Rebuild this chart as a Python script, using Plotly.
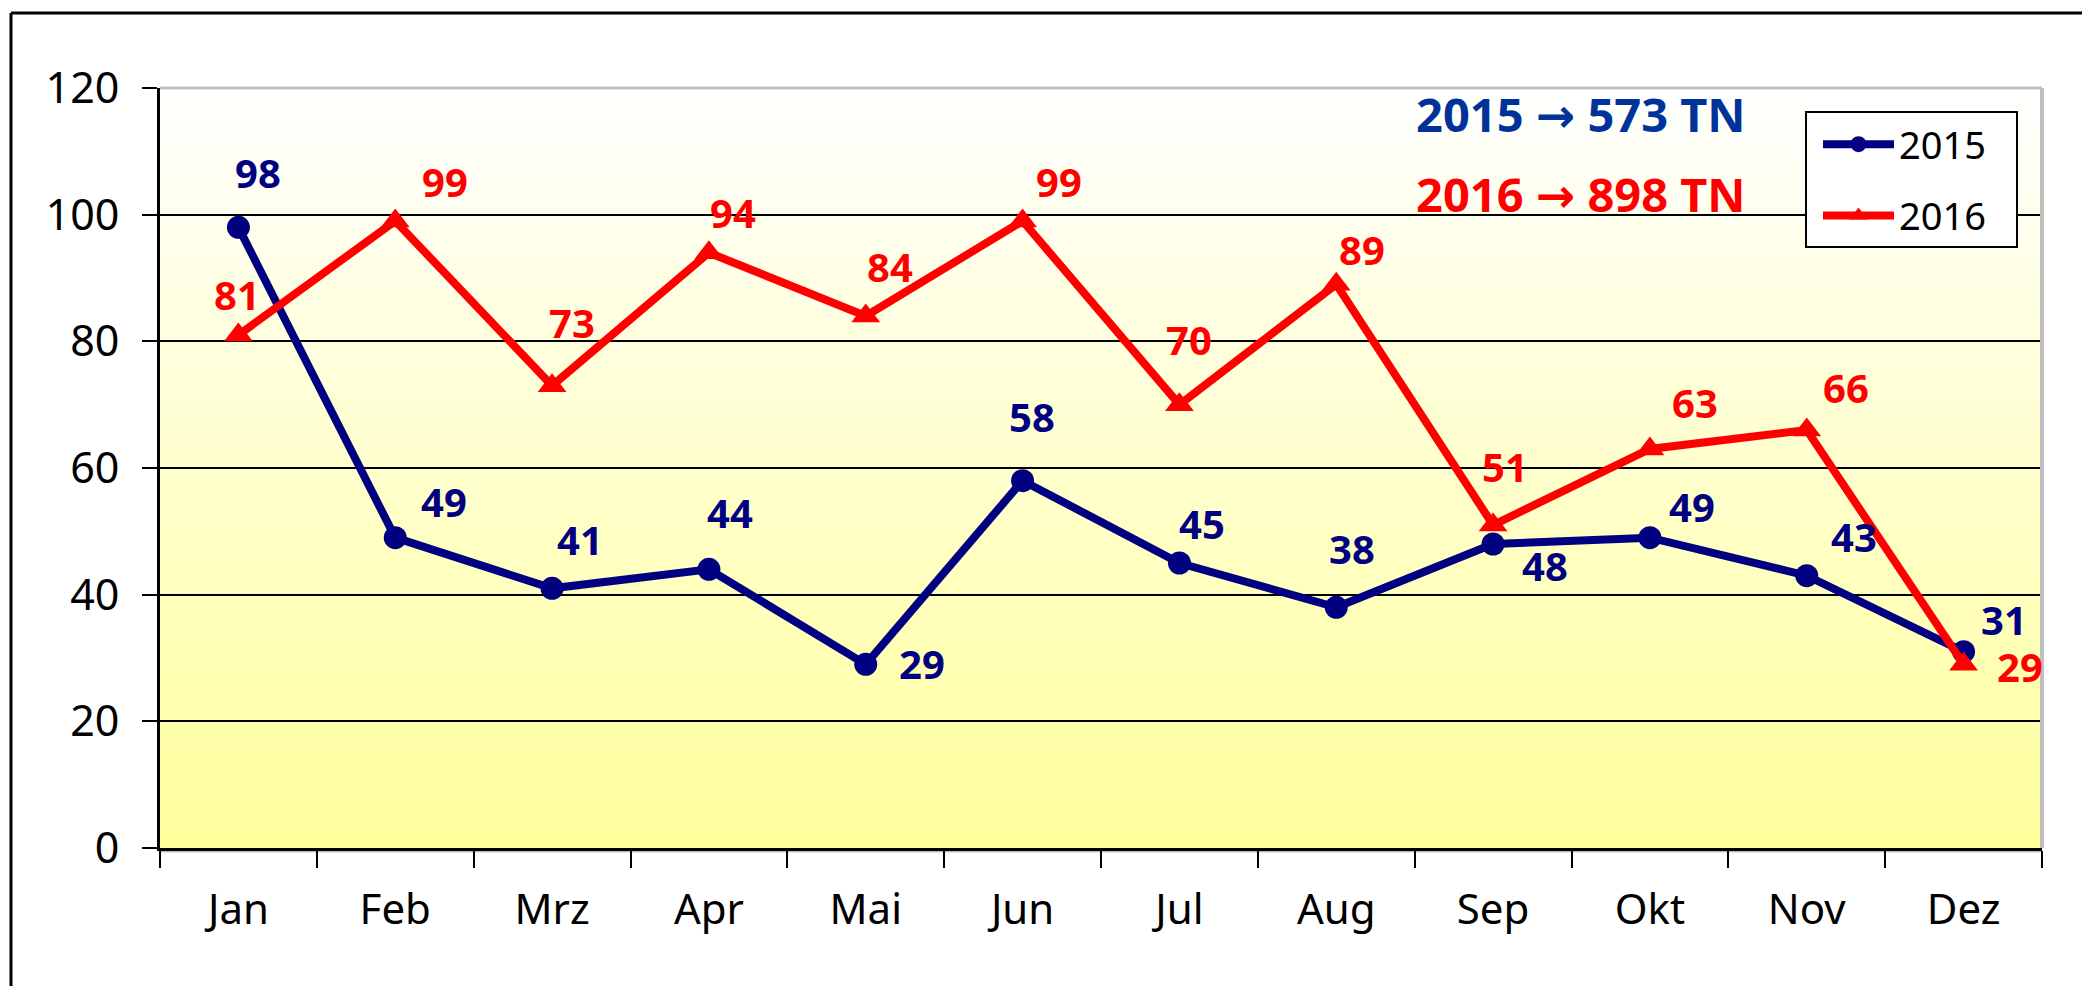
import base64
import plotly.graph_objects as go

# ---------------- data ----------------
months = ["Jan", "Feb", "Mrz", "Apr", "Mai", "Jun", "Jul", "Aug", "Sep", "Okt", "Nov", "Dez"]
values_2015 = [98, 49, 41, 44, 29, 58, 45, 38, 48, 49, 43, 31]
values_2016 = [81, 99, 73, 94, 84, 99, 70, 89, 51, 63, 66, 29]
series_names = ["2015", "2016"]
total_2015 = 573
total_2016 = 898
y_ticks = [0, 20, 40, 60, 80, 100, 120]

# label offsets in pixels (dx, dy; screen y down) - styling only
off_2015 = [(20, -53), (49, -34), (28, -47), (21, -55), (56, 1), (9, -62),
            (23, -38), (16, -57), (52, 23), (42, -29), (47, -37), (40, -30)]
off_2016 = [(-1, -39), (50, -38), (20, -61), (24, -38), (24, -48), (36, -38),
            (10, -63), (26, -33), (12, -57), (45, -45), (39, -41), (56, 4)]

NAVY = "#000080"
RED = "#FF0000"
BLUE_TXT = "#003399"
FONT = "Noto Sans"

W, H = 2082, 986
L, R, T, B = 160, 40, 88, 138

fig = go.Figure()

fig.add_trace(go.Scatter(
    x=months, y=values_2015, name=series_names[0], mode="lines+markers",
    line=dict(color=NAVY, width=8),
    marker=dict(symbol="circle", size=23, color=NAVY),
    legendgroup="a", cliponaxis=False,
))
fig.add_trace(go.Scatter(
    x=months, y=values_2016, name=series_names[1], mode="lines+markers",
    line=dict(color=RED, width=8),
    marker=dict(symbol="triangle-up", size=25, color=RED),
    legendgroup="b", cliponaxis=False,
))

annotations = []
for vals, offs, col in ((values_2015, off_2015, NAVY), (values_2016, off_2016, RED)):
    for m, v, (dx, dy) in zip(months, vals, offs):
        annotations.append(dict(
            x=m, y=v, xref="x", yref="y", text=str(v), showarrow=False,
            xshift=dx, yshift=-dy + 2, xanchor="center", yanchor="middle",
            font=dict(family=FONT, size=40, color=col, weight="bold"),
        ))

pw = W - L - R
ph = H - T - B
def px_x(x):
    return (x - L) / pw
def px_y(y):
    return (H - B - y) / ph

arrow = '<span style="font-family:DejaVu Sans">\u2192</span>'
annotations.append(dict(
    x=px_x(1581), y=px_y(114), xref="paper", yref="paper", showarrow=False,
    text=f"{series_names[0]} {arrow} {total_2015} TN", xanchor="center", yanchor="middle",
    font=dict(family=FONT, size=47, color=BLUE_TXT, weight="bold"),
))
annotations.append(dict(
    x=px_x(1581), y=px_y(194), xref="paper", yref="paper", showarrow=False,
    text=f"{series_names[1]} {arrow} {total_2016} TN", xanchor="center", yanchor="middle",
    font=dict(family=FONT, size=47, color=RED, weight="bold"),
))

svg = ('<svg xmlns="http://www.w3.org/2000/svg" width="100" height="100" viewBox="0 0 100 100" '
       'preserveAspectRatio="none"><defs><linearGradient id="g" x1="0" y1="0" x2="0" y2="1">'
       '<stop offset="0" stop-color="#FFFFFF"/><stop offset="1" stop-color="#FFFF9C"/>'
       '</linearGradient></defs><rect width="100" height="100" fill="url(#g)"/></svg>')
svg_uri = "data:image/svg+xml;base64," + base64.b64encode(svg.encode()).decode()

shapes = [
    # outer chart border (top and left)
    dict(type="line", xref="paper", yref="paper", x0=px_x(11), x1=px_x(W + 5), y0=px_y(13), y1=px_y(13),
         line=dict(color="black", width=3), layer="above"),
    dict(type="line", xref="paper", yref="paper", x0=px_x(11), x1=px_x(11), y0=px_y(13), y1=px_y(H + 5),
         line=dict(color="black", width=3), layer="above"),
    # gray plot-area frame top & right
    dict(type="line", xref="paper", yref="paper", x0=0, x1=1, y0=1, y1=1,
         line=dict(color="#BFBFBF", width=3), layer="above"),
    dict(type="line", xref="paper", yref="paper", x0=1, x1=1, y0=0, y1=1,
         line=dict(color="#BFBFBF", width=4), layer="above"),
    dict(type="line", xref="paper", yref="paper", x0=0, x1=1, y0=px_y(851), y1=px_y(851),
         line=dict(color="#BFBFBF", width=3), layer="below"),
    # legend frame
    dict(type="rect", xref="paper", yref="paper", x0=px_x(1806), x1=px_x(2017), y0=px_y(112), y1=px_y(247),
         line=dict(color="black", width=2), fillcolor="white", layer="above"),
]

fig.update_layout(
    width=W, height=H,
    margin=dict(l=L, r=R, t=T, b=B, pad=0),
    paper_bgcolor="white",
    plot_bgcolor="rgba(0,0,0,0)",
    font=dict(family=FONT, color="black"),
    showlegend=True,
    legend=dict(
        x=px_x(1818), y=px_y(113), xanchor="left", yanchor="top",
        bgcolor="rgba(0,0,0,0)", borderwidth=0,
        font=dict(family=FONT, size=38, color="black"),
        tracegroupgap=19, itemwidth=71,
    ),
    images=[dict(source=svg_uri, xref="paper", yref="paper", x=0, y=1, sizex=1, sizey=1,
                 sizing="stretch", xanchor="left", yanchor="top", layer="below")],
    annotations=annotations,
    shapes=shapes,
)

fig.update_xaxes(
    type="category", categoryorder="array", categoryarray=months,
    range=[-0.5, len(months) - 0.5],
    showline=True, linecolor="black", linewidth=3,
    ticks="outside", tickson="boundaries", ticklen=17, tickwidth=2, tickcolor="black",
    showgrid=False, zeroline=False,
    tickfont=dict(family=FONT, size=42, color="black"),
    ticklabelstandoff=23,
)
fig.update_yaxes(
    range=[0, 120], tickvals=y_ticks,
    showline=True, linecolor="black", linewidth=3,
    ticks="outside", ticklen=15, tickwidth=2, tickcolor="black",
    showgrid=True, gridcolor="black", gridwidth=1.5, zeroline=False,
    tickfont=dict(family=FONT, size=43, color="black"),
    ticklabelstandoff=14,
)

fig.write_html("out.html", config={"displayModeBar": False},
               post_script="document.body.style.margin='0';document.body.style.overflow='hidden';")
